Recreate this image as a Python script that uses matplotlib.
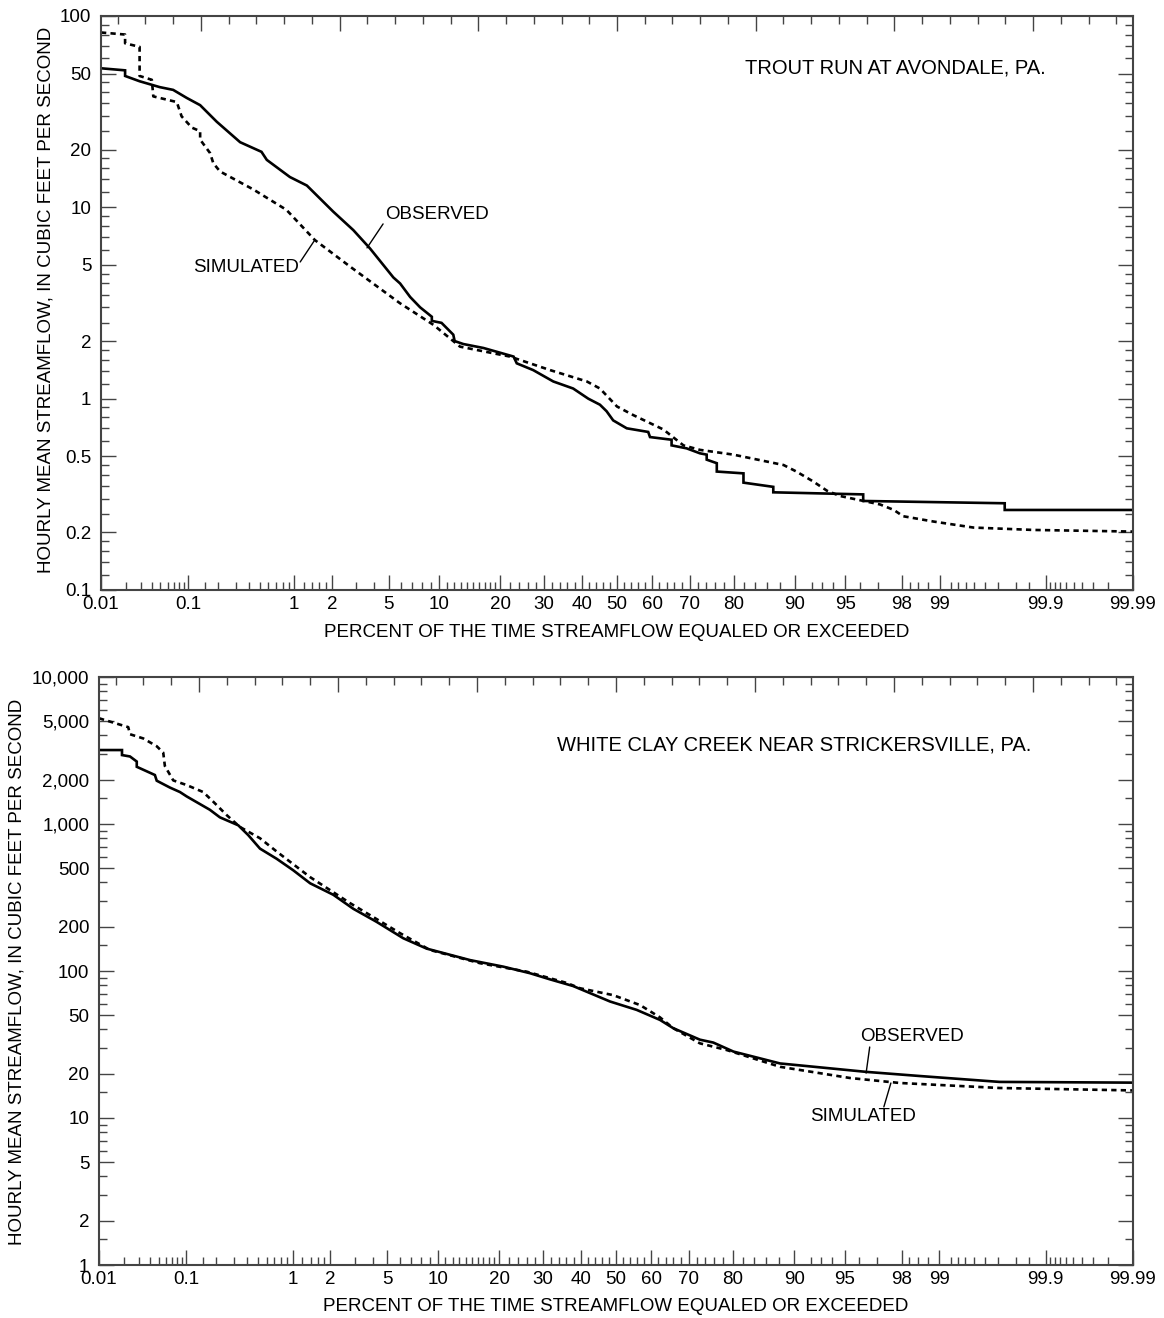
import math
import numpy as np
import matplotlib
matplotlib.use("Agg")
import matplotlib.pyplot as plt
from matplotlib.ticker import FixedLocator, FixedFormatter, NullFormatter

plt.rcParams['font.family'] = ['Liberation Sans', 'DejaVu Sans']

# ---------------- data (percent of time exceeded, streamflow cfs) -------------
trout_obs_pct = [0.01, 0.0196, 0.0196, 0.029, 0.049, 0.069, 0.0965, 0.133, 0.196, 0.33,
                 0.52, 0.58, 0.92, 1.27, 2.04, 2.87, 3.75, 5.35, 5.9, 6.8, 7.8, 9.1, 9.1,
                 10.3, 11.9, 12.1, 13.4, 16.8, 22.8, 23.5, 27.3, 32.3, 37.6, 41.8, 45.1,
                 47.0, 48.9, 52.8, 58.9, 59.4, 65.3, 65.3, 69.2, 72.5, 74.1, 74.1, 76.4,
                 76.4, 81.9, 81.9, 87.0, 87.0, 96.2, 96.2, 99.74, 99.74, 99.99]
trout_obs_q = [53.3, 52.0, 48.6, 45.6, 42.5, 41.1, 37.3, 34.2, 28.0, 21.9,
               19.5, 17.7, 14.4, 13.0, 9.5, 7.6, 6.1, 4.3, 4.0, 3.4, 3.0, 2.68, 2.55,
               2.49, 2.16, 2.0, 1.93, 1.84, 1.66, 1.53, 1.41, 1.23, 1.13, 1.0, 0.93,
               0.86, 0.77, 0.70, 0.67, 0.63, 0.61, 0.57, 0.55, 0.518, 0.51, 0.48, 0.46,
               0.416, 0.407, 0.364, 0.346, 0.324, 0.316, 0.292, 0.284, 0.262, 0.262]

trout_sim_pct = [0.01, 0.0196, 0.0196, 0.029, 0.029, 0.040, 0.0416, 0.0755, 0.085, 0.109,
                 0.133, 0.133, 0.168, 0.181, 0.211, 0.438, 0.86, 1.47, 2.72, 5.9, 9.3,
                 12.9, 22.0, 31.5, 41.4, 45.1, 50.0, 54.7, 63.1, 68.4, 72.5, 79.9, 88.5,
                 90.2, 92.1, 93.5, 94.6, 97.1, 97.7, 98.04, 98.87, 99.49, 99.865, 99.99]
trout_sim_q = [82.0, 80.0, 72.0, 69.0, 48.6, 46.4, 38.0, 35.5, 29.9, 26.1,
               25.0, 22.6, 19.2, 17.0, 15.4, 12.4, 9.7, 6.75, 4.9, 3.15, 2.43,
               1.87, 1.66, 1.41, 1.23, 1.13, 0.91, 0.82, 0.69, 0.57, 0.54, 0.51, 0.45,
               0.416, 0.37, 0.33, 0.31, 0.28, 0.262, 0.243, 0.228, 0.212, 0.206, 0.202]

wcc_obs_pct = [0.01, 0.019, 0.019, 0.0236, 0.0283, 0.0283, 0.0455, 0.0477, 0.0666, 0.0854,
               0.1007, 0.174, 0.219, 0.329, 0.408, 0.522, 0.732, 1.01, 1.39, 2.10, 2.94,
               4.25, 6.30, 8.66, 14.7, 20.9, 26.8, 31.7, 37.9, 48.3, 55.9, 62.4, 66.0,
               72.7, 75.8, 80.1, 88.1, 96.4, 98.56, 99.71, 99.99]
wcc_obs_q = [3185, 3185, 2944, 2880, 2660, 2450, 2154, 1970, 1770, 1650,
             1540, 1250, 1110, 980, 840, 680, 580, 485, 395, 330, 265,
             216, 167, 142, 118.6, 107, 96.6, 87.8, 79, 62, 54.4, 46.5, 40.8,
             34.1, 32.6, 28.3, 23.5, 20.6, 19.3, 17.6, 17.4]

wcc_sim_pct = [0.01, 0.0225, 0.0236, 0.0336, 0.0477, 0.0563, 0.0587, 0.0724, 0.1007, 0.149,
               0.188, 0.255, 0.341, 0.522, 0.732, 1.39, 2.78, 6.01, 9.04, 16.4, 26.0,
               36.1, 39.8, 49.2, 56.9, 62.4, 66.0, 72.7, 78.7, 88.1, 95.4, 97.95, 99.71,
               99.99]
wcc_sim_q = [5240, 4560, 4080, 3820, 3380, 3060, 2480, 1980, 1840, 1650,
             1420, 1150, 955, 800, 650, 435, 290, 181, 139, 113, 99,
             83, 76.3, 68.5, 58.6, 48.4, 40.8, 32.2, 29.0, 22.3, 18.7, 17.3, 16.0,
             15.4]

x_major = [0.01, 0.1, 1, 2, 5, 10, 20, 30, 40, 50, 60, 70, 80, 90, 95, 98, 99, 99.9, 99.99]
x_major_labels = ['0.01', '0.1', '1', '2', '5', '10', '20', '30', '40', '50', '60', '70',
                  '80', '90', '95', '98', '99', '99.9', '99.99']
x_minor = ([0.02, 0.03, 0.04, 0.05, 0.06, 0.07, 0.08, 0.09,
            0.15, 0.2, 0.3, 0.4, 0.5, 0.6, 0.7, 0.8, 0.9,
            1.2, 1.4, 1.6, 1.8, 3, 4, 6, 7, 8, 9,
            11, 12, 13, 14, 15, 16, 17, 18, 19,
            22, 24, 26, 28, 32, 34, 36, 38, 42, 44, 46, 48, 52, 54, 56, 58,
            62, 64, 66, 68, 72, 74, 76, 78, 82, 84, 86, 88, 92, 93, 94, 96, 97,
            98.25, 98.5, 98.75, 99.2, 99.3, 99.4, 99.5, 99.6, 99.7, 99.8, 99.85,
            99.91, 99.92, 99.93, 99.94, 99.95, 99.96, 99.97, 99.98])

top_y_major = [0.1, 0.2, 0.5, 1, 2, 5, 10, 20, 50, 100]
top_y_labels = ['0.1', '0.2', '0.5', '1', '2', '5', '10', '20', '50', '100']
top_y_minor = [0.12, 0.14, 0.16, 0.18, 0.25, 0.3, 0.35, 0.4, 0.45, 0.6, 0.7, 0.8, 0.9,
               1.2, 1.4, 1.6, 1.8, 2.5, 3, 3.5, 4, 4.5, 6, 7, 8, 9,
               12, 14, 16, 18, 25, 30, 35, 40, 45, 60, 70, 80, 90]

bot_y_major = [1, 2, 5, 10, 20, 50, 100, 200, 500, 1000, 2000, 5000, 10000]
bot_y_labels = ['1', '2', '5', '10', '20', '50', '100', '200', '500', '1,000', '2,000',
                '5,000', '10,000']
bot_y_minor = [1.5, 3, 4, 6, 7, 8, 9, 15, 30, 40, 60, 70, 80, 90, 150, 300, 400, 600, 700,
               800, 900, 1500, 3000, 4000, 6000, 7000, 8000, 9000]


# ---------------- normal probability scale ----------------------------------
def _ppf(q):
    q = np.asarray(q, dtype=float)
    a = [-3.969683028665376e+01, 2.209460984245205e+02, -2.759285104469687e+02,
         1.383577518672690e+02, -3.066479806614716e+01, 2.506628277459239e+00]
    b = [-5.447609879822406e+01, 1.615858368580409e+02, -1.556989798598866e+02,
         6.680131188771972e+01, -1.328068155288572e+01]
    c = [-7.784894002430293e-03, -3.223964580411365e-01, -2.400758277161838e+00,
         -2.549671084476630e+00, 4.374664141464968e+00, 2.938163982698783e+00]
    d = [7.784695709041462e-03, 3.224671290700398e-01, 2.445134137142996e+00,
         3.754408661907416e+00]
    plow = 0.02425
    q = np.clip(q, 1e-12, 1 - 1e-12)
    out = np.empty_like(q)
    lo = q < plow
    hi = q > 1 - plow
    mid = ~(lo | hi)
    if np.any(lo):
        t = np.sqrt(-2 * np.log(q[lo]))
        out[lo] = (((((c[0]*t + c[1])*t + c[2])*t + c[3])*t + c[4])*t + c[5]) / \
                  ((((d[0]*t + d[1])*t + d[2])*t + d[3])*t + 1)
    if np.any(hi):
        t = np.sqrt(-2 * np.log(1 - q[hi]))
        out[hi] = -(((((c[0]*t + c[1])*t + c[2])*t + c[3])*t + c[4])*t + c[5]) / \
                  ((((d[0]*t + d[1])*t + d[2])*t + d[3])*t + 1)
    if np.any(mid):
        r = q[mid] - 0.5
        s = r * r
        out[mid] = (((((a[0]*s + a[1])*s + a[2])*s + a[3])*s + a[4])*s + a[5]) * r / \
                   (((((b[0]*s + b[1])*s + b[2])*s + b[3])*s + b[4])*s + 1)
    return out


_erf = np.vectorize(math.erf, otypes=[float])


def pct_to_z(p):
    return _ppf(np.asarray(p, dtype=float) / 100.0)


def z_to_pct(z):
    z = np.asarray(z, dtype=float)
    return 100.0 * 0.5 * (1.0 + _erf(z / math.sqrt(2.0)))


# ---------------- figure ---------------------------------------------------------
W, H = 1164, 1318
fig = plt.figure(figsize=(W / 100, H / 100), dpi=100)

ax1 = fig.add_axes([101 / W, 1 - 590 / H, 1032 / W, 574 / H])
ax2 = fig.add_axes([99 / W, 1 - 1265 / H, 1034 / W, 588 / H])

spine_col = '#444444'
FS = 13.5
FS_TITLE = 14.5


def style_axes(ax, ylim, ymaj, ylab, ymin):
    ax.set_xscale('function', functions=(pct_to_z, z_to_pct))
    ax.set_yscale('log')
    ax.set_xlim(0.01, 99.99)
    ax.set_ylim(*ylim)
    ax.xaxis.set_major_locator(FixedLocator(x_major))
    ax.xaxis.set_major_formatter(FixedFormatter(x_major_labels))
    ax.xaxis.set_minor_locator(FixedLocator(x_minor))
    ax.xaxis.set_minor_formatter(NullFormatter())
    ax.yaxis.set_major_locator(FixedLocator(ymaj))
    ax.yaxis.set_major_formatter(FixedFormatter(ylab))
    ax.yaxis.set_minor_locator(FixedLocator(ymin))
    ax.yaxis.set_minor_formatter(NullFormatter())
    ax.tick_params(axis='both', which='major', direction='in', length=11, width=1.0,
                   color=spine_col, labelsize=FS)
    ax.tick_params(axis='x', which='major', pad=4)
    ax.tick_params(axis='y', which='major', pad=7)
    ax.tick_params(axis='both', which='minor', direction='in', length=6, width=1.0,
                   color=spine_col)
    for s in ax.spines.values():
        s.set_color(spine_col)
        s.set_linewidth(1.5)
    # top axis: linear standard-normal deviate ticks
    sec = ax.secondary_xaxis('top', functions=(pct_to_z, z_to_pct))
    sec.set_xscale('linear')
    zt = np.round(np.arange(-3.6, 3.61, 0.2), 1)
    sec.xaxis.set_major_locator(FixedLocator([v for v in zt if abs(v - round(v)) < 1e-6]))
    sec.xaxis.set_minor_locator(FixedLocator([v for v in zt if abs(v - round(v)) > 1e-6]))
    sec.xaxis.set_major_formatter(NullFormatter())
    sec.tick_params(which='major', direction='in', length=11, width=1.0, color=spine_col)
    sec.tick_params(which='minor', direction='in', length=6, width=1.0, color=spine_col)
    sec.spines['top'].set_visible(False)
    # right axis mirror
    secy = ax.secondary_yaxis('right')
    secy.yaxis.set_major_locator(FixedLocator(ymaj))
    secy.yaxis.set_minor_locator(FixedLocator(ymin))
    secy.yaxis.set_major_formatter(NullFormatter())
    secy.yaxis.set_minor_formatter(NullFormatter())
    secy.tick_params(which='major', direction='in', length=11, width=1.0, color=spine_col)
    secy.tick_params(which='minor', direction='in', length=6, width=1.0, color=spine_col)
    secy.spines['right'].set_visible(False)
    ax.set_xlabel('PERCENT OF THE TIME STREAMFLOW EQUALED OR EXCEEDED', fontsize=FS)
    ax.set_ylabel('HOURLY MEAN STREAMFLOW, IN CUBIC FEET PER SECOND', fontsize=FS)


style_axes(ax1, (0.1, 100), top_y_major, top_y_labels, top_y_minor)
style_axes(ax2, (1, 10000), bot_y_major, bot_y_labels, bot_y_minor)

ax1.xaxis.set_label_coords(0.5, -0.0592)
ax1.yaxis.set_label_coords(-0.0446, 0.505)
ax2.xaxis.set_label_coords(0.5, -0.0561)
ax2.yaxis.set_label_coords(-0.0706, 0.498)

obs_kw = dict(color='black', lw=1.9, solid_joinstyle='miter')
sim_kw = dict(color='black', lw=1.9, linestyle=(0, (2.0, 1.6)))

ax1.plot(trout_obs_pct, trout_obs_q, **obs_kw)
ax1.plot(trout_sim_pct, trout_sim_q, **sim_kw)
ax2.plot(wcc_obs_pct, wcc_obs_q, **obs_kw)
ax2.plot(wcc_sim_pct, wcc_sim_q, **sim_kw)

# annotations
ax1.text(0.624, 0.909, 'TROUT RUN AT AVONDALE, PA.', transform=ax1.transAxes,
         fontsize=FS_TITLE, ha='left', va='center')
ax1.text(4.72, 9.12, 'OBSERVED', fontsize=FS, ha='left', va='center')
ax1.annotate('', xy=(3.58, 6.14), xytext=(4.59, 8.19),
             arrowprops=dict(arrowstyle='-', lw=1.0, color='black', shrinkA=0, shrinkB=0))
ax1.text(0.112, 4.82, 'SIMULATED', fontsize=FS, ha='left', va='center')
ax1.annotate('', xy=(1.47, 6.75), xytext=(1.12, 5.18),
             arrowprops=dict(arrowstyle='-', lw=1.0, color='black', shrinkA=0, shrinkB=0))

ax2.text(0.443, 0.884, 'WHITE CLAY CREEK NEAR STRICKERSVILLE, PA.', transform=ax2.transAxes,
         fontsize=FS_TITLE, ha='left', va='center')
ax2.text(0.736, 0.388, 'OBSERVED', transform=ax2.transAxes, fontsize=FS, ha='left', va='center')
ax2.annotate('', xy=(96.4, 20.2), xytext=(96.6, 30.4),
             arrowprops=dict(arrowstyle='-', lw=1.0, color='black', shrinkA=0, shrinkB=0))
ax2.text(0.688, 0.252, 'SIMULATED', transform=ax2.transAxes, fontsize=FS, ha='left', va='center')
ax2.annotate('', xy=(97.6, 17.3), xytext=(97.3, 11.9),
             arrowprops=dict(arrowstyle='-', lw=1.0, color='black', shrinkA=0, shrinkB=0))

fig.savefig('out.png', dpi=100)
